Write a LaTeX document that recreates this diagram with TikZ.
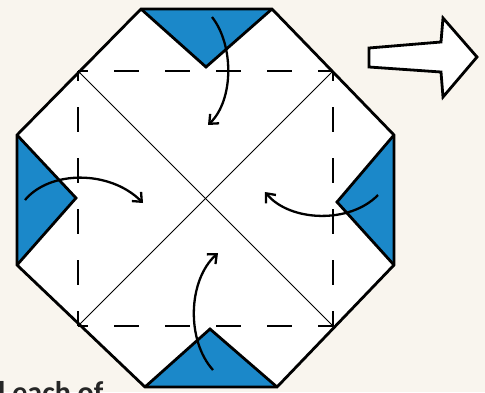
\documentclass[tikz,border=0pt]{standalone}
\usepackage{fontspec}
\setmainfont{Carlito}
\usetikzlibrary{arrows.meta}
\definecolor{bg}{RGB}{249,245,238}
\definecolor{fold}{RGB}{27,136,201}
\begin{document}
\begin{tikzpicture}[x=1pt,y=-1pt,
  outline/.style={draw=black,line width=2.8pt,line join=miter},
  foldline/.style={draw=black,line width=2.2pt,dash pattern=on 25pt off 26pt,dash phase=15pt},
  crease/.style={draw=black,line width=1pt},
  flap/.style={fill=fold,draw=black,line width=2.8pt,line join=miter},
  move/.style={draw=black,line width=2.3pt,-{Straight Barb[length=7.5pt,width=13pt]}},
  turn/.style={fill=white,draw=black,line width=2.8pt,line join=miter}]
\useasboundingbox (0,0) rectangle (485,392);
\fill[bg] (0,0) rectangle (485,392);
% octagon corners
\coordinate (o1) at (141,9);
\coordinate (o2) at (272,9);
\coordinate (o3) at (394,135);
\coordinate (o4) at (394,265);
\coordinate (o5) at (277,387);
\coordinate (o6) at (145,387);
\coordinate (o7) at (17,265);
\coordinate (o8) at (17,135);
% square corners
\coordinate (s1) at (78,71);
\coordinate (s2) at (333,71);
\coordinate (s3) at (333,326);
\coordinate (s4) at (78,326);
% flap apexes
\coordinate (ft) at (206,67);
\coordinate (fl) at (76,198);
\coordinate (fr) at (337,202);
\coordinate (fb) at (210,329);
\fill[white] (o1) -- (o2) -- (o3) -- (o4) -- (o5) -- (o6) -- (o7) -- (o8) -- cycle;
% creases
\draw[crease] (s1) -- (s3);
\draw[crease] (s2) -- (s4);
% dashed square
\draw[foldline] (s1) -- (s2);
\draw[foldline] (s2) -- (s3);
\draw[foldline] (s4) -- (s3);
\draw[foldline] (s1) -- (s4);
% blue flaps
\fill[fold] (o1) -- (ft) -- (o2) -- cycle;
\draw[flap] (o1) -- (ft) -- (o2);
\fill[fold] (o8) -- (fl) -- (o7) -- cycle;
\draw[flap] (o8) -- (fl) -- (o7);
\fill[fold] (o3) -- (fr) -- (o4) -- cycle;
\draw[flap] (o3) -- (fr) -- (o4);
\fill[fold] (o6) -- (fb) -- (o5) -- cycle;
\draw[flap] (o6) -- (fb) -- (o5);
% outline
\draw[outline] (o1) -- (o2) -- (o3) -- (o4) -- (o5) -- (o6) -- (o7) -- (o8) -- cycle;
% curved arrows
\coordinate (at1) at (212,17);  \coordinate (at2) at (208,125);
\coordinate (al1) at (25,200);  \coordinate (al2) at (143,203);
\coordinate (ar1) at (378,195); \coordinate (ar2) at (265,192);
\coordinate (ab1) at (213,370); \coordinate (ab2) at (218,253);
\draw[move] (at1) .. controls (234,45) and (234,100) .. (at2);
\draw[move] (al1) .. controls (50,170) and (110,170) .. (al2);
\draw[move] (ar1) .. controls (350,224) and (290,222) .. (ar2);
\draw[move] (ab1) .. controls (186,340) and (188,280) .. (ab2);
% turn-over arrow
\draw[turn] (369,48) -- (441,42) -- (443,18) -- (477,57) -- (443,97) -- (441,72) -- (369,67) -- cycle;
% clipped caption
\node[anchor=base west,inner sep=0pt,text=black!85,font=\bfseries\fontsize{30}{36}\selectfont] (caption) at (-2,402) {l each of};
\end{tikzpicture}
\end{document}
